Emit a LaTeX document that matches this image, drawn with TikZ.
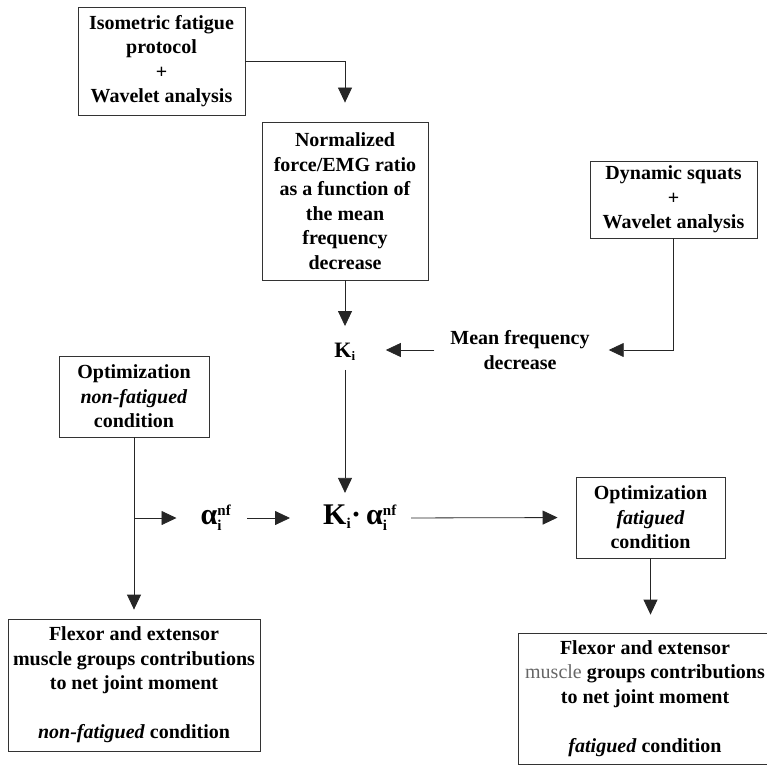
\documentclass[tikz,border=0pt]{standalone}
\usepackage{fontspec}
\setmainfont{Liberation Serif}
\usepackage{amsmath}
\usetikzlibrary{arrows.meta}
\DeclareMathSizes{30}{30}{15}{12}
\DeclareMathSizes{22}{22}{13}{10}
\begin{document}
\begin{tikzpicture}[x=1pt,y=-1pt,
  box/.style={draw=black!80, line width=0.8pt, align=center, inner sep=0pt,
    font=\fontsize{20}{24.5}\selectfont\bfseries},
  plain/.style={align=center, inner sep=0pt, font=\fontsize{20}{24.5}\selectfont\bfseries},
  sym/.style={inner sep=0pt, font=\fontsize{30}{36}\selectfont\bfseries},
  arr/.style={draw=black!85, line width=0.8pt, -{Triangle[length=15pt,width=14pt]}}]
\useasboundingbox (0,0) rectangle (767,765);

\node[box, minimum width=167pt, minimum height=108pt] (iso) at (161.5,61)
  {Isometric fatigue\\protocol\\+\\Wavelet analysis};
\node[box, minimum width=166pt, minimum height=158pt] (norm) at (345,201)
  {Normalized\\force/EMG ratio\\as a function of\\the mean\\frequency\\decrease};
\node[box, minimum width=167pt, minimum height=77pt] (dyn) at (673.5,199.5)
  {Dynamic squats\\+\\Wavelet analysis};
\node[plain] (mean) at (520,350) {Mean frequency\\decrease};
\node[inner sep=0pt, font=\fontsize{22}{26}\selectfont\bfseries] (ki) at (345,352) {K$_{\text{i}}$};
\node[box, minimum width=150pt, minimum height=81pt] (optnf) at (134,396.5)
  {Optimization\\\textit{non-fatigued}\\condition};
\node[sym] (alnf) at (216,518) {α$^{\text{nf}}_{\text{i}}$};
\node[sym] (kal) at (360,518) {K$_{\text{i}}$·\,α$^{\text{nf}}_{\text{i}}$};
\node[box, minimum width=149pt, minimum height=81pt] (optf) at (650.5,517.5)
  {Optimization\\\textit{fatigued}\\condition};
\node[box, minimum width=252pt, minimum height=132pt] (resnf) at (134,685)
  {Flexor and extensor\\muscle groups contributions\\to net joint moment\\[24.5pt]\textit{non-fatigued} condition};
\node[box, minimum width=254pt, minimum height=131pt] (resf) at (645,698.5)
  {Flexor and extensor\\{\mdseries\color{black!60}muscle} groups contributions\\to net joint moment\\[24.5pt]\textit{fatigued} condition};

\draw[arr, shorten >=19pt] (iso.east) -| (norm.north);
\draw[arr, shorten >=17pt] (norm.south) -- (ki.north);
\draw[arr, shorten >=19pt] (dyn.south) |- (mean.east);
\draw[arr, shorten <=16pt, shorten >=30pt] (mean.west) -- (mean.west -| ki.east);
\draw[arr, shorten <=9pt, shorten >=12pt] (ki.south) -- (ki.south |- kal.north);
\draw[arr, shorten >=9pt] (optnf.south) -- (resnf.north);
\draw[arr, shorten >=24pt] (optnf.south |- alnf.west) -- (alnf.west);
\draw[arr, shorten <=16pt, shorten >=33pt] (alnf.east) -- (kal.west);
\draw[arr, shorten <=14pt, shorten >=18pt] (kal.east) -- (optf.west);
\draw[arr, shorten >=18pt] (optf.south) -- (optf.south |- resf.north);
\end{tikzpicture}
\end{document}
